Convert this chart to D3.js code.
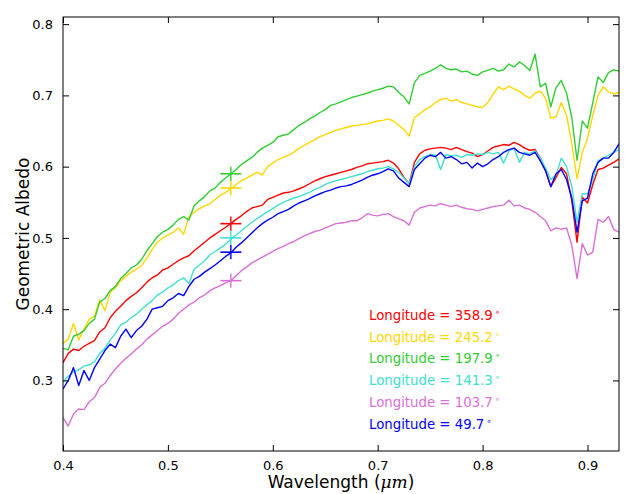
<!DOCTYPE html>
<html><head><meta charset="utf-8">
<script src="https://cdn.jsdelivr.net/npm/d3@7"></script>
<style>html,body{margin:0;padding:0;background:#fff;}svg{display:block;font-family:"DejaVu Sans",sans-serif;}</style>
</head><body>
<svg id="c" width="627" height="494"></svg>
<script>
// wavelength grid (microns), 0.400 .. 0.930 in 0.005 steps
const wavelength = d3.range(0, 107).map(k => +(0.4 + 0.005 * k).toFixed(3));

const labels = ["Longitude = 358.9", "Longitude = 245.2", "Longitude = 197.9", "Longitude = 141.3", "Longitude = 103.7", "Longitude = 49.7"];
const colors = ["#ff0000", "#ffd700", "#32cd32", "#40e0d0", "#da70d6", "#0000ff"];

const lon358 = [0.325,0.338,0.344,0.342,0.348,0.352,0.356,0.368,0.374,0.388,0.397,0.404,0.412,0.418,0.423,0.430,0.438,0.444,0.448,0.455,
0.458,0.463,0.468,0.472,0.475,0.482,0.488,0.494,0.500,0.505,0.510,0.515,0.520,0.526,0.531,0.537,0.542,0.544,0.546,0.554,
0.557,0.560,0.563,0.564,0.566,0.569,0.572,0.576,0.580,0.583,0.586,0.588,0.590,0.592,0.594,0.596,0.599,0.601,0.604,0.605,
0.606,0.607,0.609,0.605,0.597,0.585,0.576,0.606,0.618,0.623,0.625,0.626,0.627,0.626,0.624,0.627,0.624,0.621,0.619,0.614,
0.617,0.622,0.627,0.629,0.631,0.630,0.634,0.631,0.626,0.623,0.624,0.612,0.595,0.572,0.585,0.599,0.590,0.552,0.494,0.557,
0.549,0.575,0.596,0.598,0.602,0.606,0.611];

const lon245 = [0.352,0.358,0.380,0.357,0.372,0.386,0.390,0.413,0.398,0.424,0.430,0.440,0.446,0.452,0.456,0.461,0.472,0.484,0.494,0.500,
0.504,0.508,0.514,0.505,0.530,0.536,0.541,0.545,0.548,0.554,0.560,0.564,0.569,0.575,0.580,0.584,0.588,0.592,0.588,0.600,
0.605,0.610,0.613,0.616,0.620,0.626,0.630,0.634,0.638,0.642,0.645,0.648,0.651,0.653,0.655,0.657,0.658,0.659,0.660,0.662,
0.664,0.665,0.667,0.664,0.658,0.652,0.643,0.669,0.674,0.680,0.684,0.690,0.694,0.696,0.692,0.694,0.690,0.688,0.686,0.684,
0.683,0.690,0.702,0.712,0.708,0.713,0.709,0.706,0.700,0.696,0.703,0.706,0.696,0.668,0.670,0.690,0.672,0.632,0.583,0.620,
0.640,0.672,0.700,0.712,0.705,0.702,0.704];

const lon197 = [0.345,0.343,0.362,0.365,0.370,0.380,0.386,0.410,0.415,0.426,0.432,0.443,0.450,0.458,0.462,0.470,0.482,0.492,0.502,0.508,
0.512,0.518,0.526,0.530,0.525,0.545,0.552,0.558,0.566,0.570,0.578,0.584,0.590,0.596,0.603,0.608,0.613,0.620,0.626,0.630,
0.634,0.642,0.644,0.646,0.652,0.658,0.662,0.667,0.671,0.676,0.680,0.686,0.688,0.691,0.694,0.697,0.699,0.701,0.703,0.706,
0.708,0.710,0.713,0.712,0.704,0.698,0.688,0.718,0.728,0.731,0.734,0.738,0.743,0.738,0.736,0.737,0.733,0.734,0.730,0.728,
0.733,0.735,0.738,0.734,0.736,0.744,0.740,0.747,0.742,0.735,0.758,0.712,0.717,0.684,0.711,0.721,0.703,0.669,0.609,0.664,
0.654,0.690,0.726,0.718,0.732,0.736,0.734];

const lon141 = [0.298,0.306,0.312,0.315,0.320,0.322,0.326,0.338,0.345,0.357,0.366,0.378,0.382,0.388,0.393,0.400,0.406,0.412,0.420,0.424,
0.430,0.434,0.440,0.444,0.436,0.456,0.462,0.468,0.476,0.481,0.486,0.491,0.498,0.504,0.510,0.516,0.522,0.527,0.532,0.537,
0.541,0.546,0.550,0.553,0.556,0.558,0.561,0.564,0.568,0.571,0.575,0.578,0.580,0.582,0.584,0.586,0.588,0.590,0.593,0.595,
0.597,0.598,0.600,0.597,0.592,0.584,0.576,0.600,0.610,0.614,0.617,0.616,0.596,0.617,0.615,0.616,0.613,0.617,0.616,0.618,
0.617,0.620,0.618,0.620,0.605,0.622,0.626,0.606,0.620,0.618,0.622,0.612,0.598,0.582,0.588,0.612,0.600,0.572,0.522,0.562,
0.562,0.582,0.608,0.612,0.616,0.620,0.624];

const lon103 = [0.248,0.236,0.253,0.260,0.259,0.270,0.276,0.290,0.296,0.307,0.316,0.324,0.331,0.337,0.344,0.350,0.358,0.364,0.370,0.376,
0.380,0.386,0.394,0.400,0.406,0.410,0.416,0.420,0.426,0.430,0.433,0.437,0.440,0.447,0.454,0.459,0.465,0.469,0.473,0.477,
0.481,0.485,0.488,0.492,0.495,0.499,0.503,0.506,0.509,0.511,0.514,0.517,0.520,0.521,0.522,0.524,0.524,0.528,0.534,0.532,
0.531,0.533,0.534,0.530,0.527,0.524,0.518,0.536,0.542,0.544,0.546,0.545,0.548,0.546,0.544,0.546,0.543,0.541,0.540,0.538,
0.540,0.542,0.544,0.545,0.546,0.553,0.545,0.546,0.542,0.540,0.536,0.530,0.524,0.510,0.514,0.512,0.514,0.490,0.443,0.492,
0.476,0.480,0.526,0.522,0.530,0.512,0.508];

const lon49 = [0.288,0.300,0.318,0.293,0.314,0.300,0.318,0.330,0.342,0.351,0.346,0.362,0.372,0.360,0.370,0.376,0.386,0.400,0.402,0.404,
0.412,0.416,0.422,0.419,0.432,0.442,0.446,0.452,0.457,0.462,0.468,0.474,0.479,0.487,0.493,0.500,0.507,0.514,0.520,0.525,
0.529,0.534,0.537,0.540,0.545,0.549,0.552,0.555,0.559,0.562,0.565,0.567,0.570,0.572,0.573,0.575,0.578,0.581,0.585,0.588,
0.590,0.593,0.597,0.594,0.584,0.578,0.572,0.596,0.604,0.612,0.616,0.614,0.620,0.612,0.614,0.610,0.604,0.606,0.598,0.605,
0.600,0.604,0.610,0.614,0.620,0.624,0.626,0.620,0.618,0.616,0.620,0.608,0.594,0.572,0.590,0.596,0.582,0.556,0.508,0.552,
0.556,0.590,0.606,0.612,0.612,0.620,0.632];

// photometric points with error bars
const pointWave = 0.56;
const pointVal = [0.52, 0.57, 0.59, 0.50, 0.44, 0.48];
const pointErrX = 0.01;
const pointErrY = 0.01;

const xTicks = [0.4, 0.5, 0.6, 0.7, 0.8, 0.9];
const yTicks = [0.3, 0.4, 0.5, 0.6, 0.7, 0.8];

const series = [lon358, lon245, lon197, lon141, lon103, lon49];

const svg = d3.select("#c");
const L = 63, R = 619, T = 17, B = 451;
const x = d3.scaleLinear().domain([0.4, 0.93]).range([L, R]);
const y = d3.scaleLinear().domain([0.201, 0.81]).range([B, T]);

const plot = svg.append("g");
svg.append("clipPath").attr("id", "clip").append("rect")
  .attr("x", L).attr("y", T).attr("width", R - L).attr("height", B - T);
const g = plot.append("g").attr("clip-path", "url(#clip)");

const line = d3.line().x((d, i) => x(wavelength[i])).y(d => y(d));
series.forEach((s, i) => {
  g.append("path").datum(s).attr("d", line)
    .attr("fill", "none").attr("stroke", colors[i]).attr("stroke-width", 1.4)
    .attr("stroke-linejoin", "round");
});

// error bars
pointVal.forEach((v, i) => {
  g.append("line").attr("x1", x(pointWave - pointErrX)).attr("x2", x(pointWave + pointErrX))
    .attr("y1", y(v)).attr("y2", y(v)).attr("stroke", colors[i]).attr("stroke-width", 1.6);
  g.append("line").attr("x1", x(pointWave)).attr("x2", x(pointWave))
    .attr("y1", y(v - pointErrY)).attr("y2", y(v + pointErrY)).attr("stroke", colors[i]).attr("stroke-width", 1.4);
});

// frame
svg.append("rect").attr("x", L).attr("y", T).attr("width", R - L).attr("height", B - T)
  .attr("fill", "none").attr("stroke", "#000").attr("stroke-width", 1);

// axes with inward ticks
const fmt = d3.format(".1f");
const ax = d3.axisBottom(x).tickValues(xTicks).tickFormat(fmt).tickSizeInner(-6).tickSizeOuter(0).tickPadding(10);
const gx = svg.append("g").attr("transform", `translate(0,${B})`).call(ax);
const ay = d3.axisLeft(y).tickValues(yTicks).tickFormat(fmt).tickSizeInner(-6).tickSizeOuter(0).tickPadding(10);
const gy = svg.append("g").attr("transform", `translate(${L},0)`).call(ay);
const axTop = d3.axisTop(x).tickValues(xTicks).tickFormat("").tickSizeInner(-6).tickSizeOuter(0);
const gxt = svg.append("g").attr("transform", `translate(0,${T})`).call(axTop);
const ayR = d3.axisRight(y).tickValues(yTicks).tickFormat("").tickSizeInner(-6).tickSizeOuter(0);
const gyr = svg.append("g").attr("transform", `translate(${R},0)`).call(ayR);
[gx, gy, gxt, gyr].forEach(a => {
  a.select(".domain").remove();
  a.selectAll("line").attr("stroke", "#000").attr("stroke-width", 1);
  a.selectAll("text").attr("font-family", "DejaVu Sans").attr("font-size", 13).attr("fill", "#000");
});

// axis labels
const xl = svg.append("text").attr("x", (L + R) / 2).attr("y", 488).attr("text-anchor", "middle")
  .attr("font-size", 17).attr("fill", "#000");
xl.append("tspan").text("Wavelength (");
xl.append("tspan").attr("font-style", "italic").attr("font-family", "DejaVu Serif").text("μm");
xl.append("tspan").text(")");

svg.append("text").attr("transform", `translate(29,${(T + B) / 2}) rotate(-90)`)
  .attr("text-anchor", "middle").attr("font-size", 17).attr("fill", "#000").text("Geometric Albedo");

// legend text
labels.forEach((t, i) => {
  const tx = svg.append("text").attr("x", 369).attr("y", 320 + i * 21.7)
    .attr("font-size", 13.3).attr("fill", colors[i]);
  tx.append("tspan").text(t);
  tx.append("tspan").attr("dx", 2).attr("dy", -5).attr("font-size", 9).text("∘");
});
</script>
</body></html>
